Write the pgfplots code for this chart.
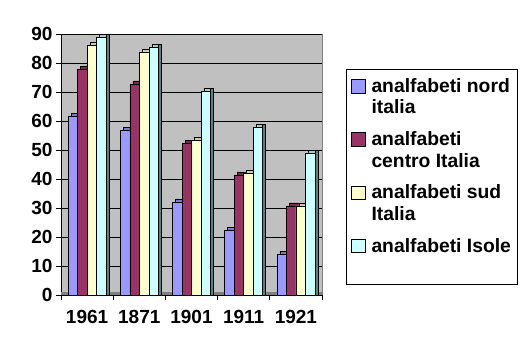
\documentclass[border=0pt]{standalone}
\usepackage{pgfplots}
\pgfplotsset{compat=1.18}
\usepackage{pgfplotstable}
\usepackage{fontspec}
\setmainfont{Liberation Sans}
\definecolor{cnord}{HTML}{9999FF}
\definecolor{ccentro}{HTML}{993366}
\definecolor{csud}{HTML}{FFFFCC}
\definecolor{cisole}{HTML}{CCFFFF}
\definecolor{tnord}{HTML}{7A7ACC}
\definecolor{tcentro}{HTML}{7A2952}
\definecolor{tsud}{HTML}{CCCCA3}
\definecolor{tisole}{HTML}{A3CCCC}
\definecolor{cside}{HTML}{5F8080}
\definecolor{wall}{HTML}{C0C0C0}
\definecolor{floor}{HTML}{808080}
\newcommand\tickbf{\fontsize{19bp}{21.7bp}\selectfont\bfseries}
\newcommand\legbf{\fontsize{19.3bp}{21.6bp}\selectfont\bfseries}
\pgfplotstableread{
x nord centro sud isole
0 61.5 78.0 86.0 89.0
1 56.8 72.8 83.8 85.5
2 32.1 52.4 53.3 70.3
3 22.3 41.4 42.1 57.9
4 14.1 30.7 30.7 49.0
}\datatable
\pgfplotstablecreatecol[expr={\thisrow{nord}+1.03}]{dnord}\datatable
\pgfplotstablecreatecol[expr={\thisrow{centro}+1.03}]{dcentro}\datatable
\pgfplotstablecreatecol[expr={\thisrow{sud}+1.03}]{dsud}\datatable
\pgfplotstablecreatecol[expr={\thisrow{isole}+1.03}]{disole}\datatable
\begin{document}
\begin{tikzpicture}
\path[use as bounding box] (0bp,0bp) rectangle (527bp,351bp);
\begin{axis}[
  at={(61bp,56bp)}, anchor=south west,
  scale only axis, width=261bp, height=261bp,
  xmin=-0.5, xmax=4.5, ymin=0, ymax=90,
  axis x line*=bottom, axis y line*=left,
  axis line style={black, line width=0.8bp},
  axis background/.style={fill=wall, draw=gray},
  ytick={0,10,...,90},
  ymajorgrids, major grid style={black, line width=0.6bp},
  tick align=outside, major tick length=5bp,
  tick style={black, line width=0.8bp},
  xtick={-0.5,0.5,...,4.5}, xticklabels={},
  extra x ticks={0,1,2,3,4},
  extra x tick labels={1961,1871,1901,1911,1921},
  extra x tick style={major tick length=0pt, grid=none},
  ticklabel style={font=\tickbf},
  /pgf/number format/assume math mode=true,
  xticklabel style={yshift=-12bp},
  bar width=9.5bp,
  legend cell align=left,
  legend style={
    at={(axis description cs:1.092,0.866)}, anchor=north west,
    draw=black, line width=0.8bp, fill=white,
    font=\legbf, inner xsep=5bp, inner ysep=8bp,
    row sep=15.5bp, column sep=5bp,
    nodes={inner sep=1bp, text depth={}, text height={}},
    cells={anchor=base west},
  },
  legend image code/.code={\draw[#1,draw=black,line width=0.6bp] (0bp,-0.5bp) rectangle (13.5bp,13bp);},
]
% floor
\addplot[fill=floor, draw=none, forget plot] coordinates {(-0.5,0) (4.5,0) (4.5,1.1) (-0.5,1.1)} -- cycle;
% depth (top faces)
\addplot[ybar, fill=tnord, draw=black, line width=0.5bp, bar shift=-11.25bp, forget plot] table[x=x,y=dnord]{\datatable};
\addplot[ybar, fill=tcentro, draw=black, line width=0.5bp, bar shift=-1.75bp, forget plot] table[x=x,y=dcentro]{\datatable};
\addplot[ybar, fill=tsud, draw=black, line width=0.5bp, bar shift=7.75bp, forget plot] table[x=x,y=dsud]{\datatable};
\addplot[ybar, fill=tisole, draw=black, line width=0.5bp, bar shift=17.25bp, forget plot] table[x=x,y=disole]{\datatable};
\addplot[ybar, fill=cside, draw=black, line width=0.5bp, bar shift=20.5bp, bar width=3bp, forget plot] table[x=x,y=disole]{\datatable};
% front faces
\addplot[ybar, fill=cnord, draw=black, line width=0.6bp, bar shift=-14.25bp] table[x=x,y=nord]{\datatable};
\addplot[ybar, fill=ccentro, draw=black, line width=0.6bp, bar shift=-4.75bp] table[x=x,y=centro]{\datatable};
\addplot[ybar, fill=csud, draw=black, line width=0.6bp, bar shift=4.75bp] table[x=x,y=sud]{\datatable};
\addplot[ybar, fill=cisole, draw=black, line width=0.6bp, bar shift=14.25bp] table[x=x,y=isole]{\datatable};
\addlegendentry{\vtop{\hbox{analfabeti nord}\hbox{italia}}}
\addlegendentry{\vtop{\hbox{analfabeti}\hbox{centro Italia}}}
\addlegendentry{\vtop{\hbox{analfabeti sud}\hbox{Italia}}}
\addlegendentry{analfabeti Isole\rule[-23bp]{0pt}{0pt}}
\end{axis}
\end{tikzpicture}
\end{document}
